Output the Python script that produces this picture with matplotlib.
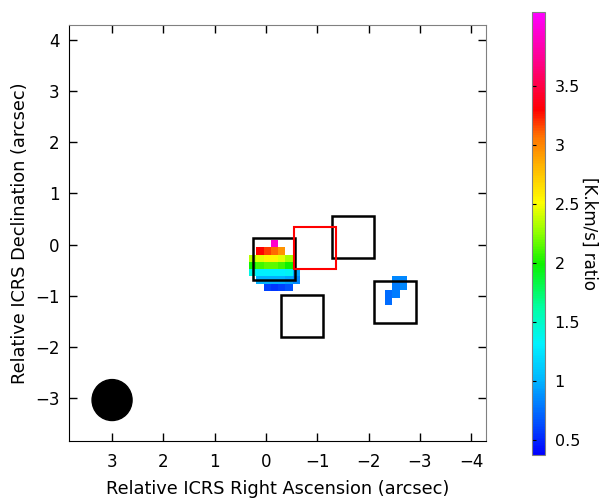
import numpy as np
import matplotlib
matplotlib.use('Agg')
import matplotlib.pyplot as plt
from matplotlib.colors import LinearSegmentedColormap
from matplotlib.patches import Rectangle, Ellipse

nan = np.nan

# ratio map, pixel size 0.14 arcsec
pix = 0.14
# main clump (7x7 pixels), top-left corner at (0.33, 0.08)
clump1_corner = (0.33, 0.08)
clump1 = [
    [nan, nan, nan, 3.95, nan, nan, nan],
    [nan, 3.30, 3.18, 3.10, 2.95, nan, nan],
    [2.35, 2.45, 2.55, 2.55, 2.45, 2.30, nan],
    [2.00, 2.10, 2.15, 2.15, 2.10, 2.00, nan],
    [1.40, 1.30, 1.30, 1.30, 1.30, 1.35, 0.95],
    [nan, 1.00, 1.00, 1.00, 1.00, 0.95, 0.85],
    [nan, nan, 0.60, 0.55, 0.60, 0.65, nan],
]
# small clump to the west (4x3 pixels)
clump2_corner = (-2.33, -0.62)
clump2 = [
    [nan, 0.85, 0.85],
    [nan, 0.80, 0.85],
    [0.75, 0.80, nan],
    [0.75, nan, nan],
]

# boxes: centres (arcsec), side 0.82
box_x = [-0.15, -1.70, -0.71, -2.52]
box_y = [-0.29, 0.145, -1.40, -1.125]
red_box = (-0.955, -0.06)
box_size = 0.82

# beam
beam_x, beam_y = 3.0, -3.04
beam_w, beam_h = 0.78, 0.80

vmin, vmax = 0.37, 4.13
cb_ticks = [0.5, 1, 1.5, 2, 2.5, 3, 3.5]

cmap = LinearSegmentedColormap.from_list('rainbow2', [
    (0.00, (0.0, 0.0, 1.0)),
    (0.08, (0.0, 0.35, 1.0)),
    (0.17, (0.0, 0.72, 1.0)),
    (0.25, (0.0, 0.95, 1.0)),
    (0.33, (0.0, 1.0, 0.65)),
    (0.43, (0.05, 0.95, 0.0)),
    (0.50, (0.55, 1.0, 0.0)),
    (0.57, (1.0, 1.0, 0.0)),
    (0.65, (1.0, 0.72, 0.0)),
    (0.72, (1.0, 0.45, 0.0)),
    (0.78, (1.0, 0.0, 0.0)),
    (0.88, (1.0, 0.0, 0.5)),
    (1.00, (1.0, 0.0, 1.0)),
])

plt.rcParams['font.family'] = 'DejaVu Sans'
plt.rcParams['axes.unicode_minus'] = True

fig = plt.figure(figsize=(6.03, 5.01), dpi=100)
ax = fig.add_axes([0.1144, 0.1198, 0.6915, 0.8303])

for arr, (x0, y0) in [(clump1, clump1_corner), (clump2, clump2_corner)]:
    a = np.array(arr)
    ny, nx = a.shape
    im = ax.imshow(a, cmap=cmap, vmin=vmin, vmax=vmax, origin='upper',
                   interpolation='nearest',
                   extent=[x0, x0 - nx * pix, y0 - ny * pix, y0])

for bx, by in zip(box_x, box_y):
    ax.add_patch(Rectangle((bx - box_size / 2, by - box_size / 2), box_size, box_size,
                           fill=False, edgecolor='black', lw=1.8))
ax.add_patch(Rectangle((red_box[0] - box_size / 2, red_box[1] - box_size / 2),
                       box_size, box_size, fill=False, edgecolor='red', lw=1.5))
ax.add_patch(Ellipse((beam_x, beam_y), beam_w, beam_h, color='black'))

ax.set_xlim(3.84, -4.29)
ax.set_ylim(-3.84, 4.29)
ax.set_aspect('auto')
ax.set_xticks(range(3, -5, -1))
ax.set_yticks(range(-3, 5))
ax.tick_params(direction='in', length=6, width=1, top=True, right=True,
               labelsize=12)
ax.tick_params(axis='x', pad=9)
ax.tick_params(axis='y', pad=7)
for s in ['top', 'right']:
    ax.spines[s].set_color('#808080')
ax.set_xlabel('Relative ICRS Right Ascension (arcsec)', fontsize=12.8, labelpad=6)
ax.set_ylabel('Relative ICRS Declination (arcsec)', fontsize=12.8, labelpad=4)

cax = fig.add_axes([0.882, 0.0918, 0.0216, 0.884])
cb = fig.colorbar(im, cax=cax, ticks=cb_ticks)
cb.outline.set_edgecolor('#808080')
cax.tick_params(left=True, right=False, direction='in', length=3,
                labelsize=11.5, pad=7)
cb.set_ticklabels(['0.5', '1', '1.5', '2', '2.5', '3', '3.5'])
cb.set_label('[K.km/s] ratio', fontsize=12, rotation=270, labelpad=13)

fig.savefig('out.png', dpi=100)
